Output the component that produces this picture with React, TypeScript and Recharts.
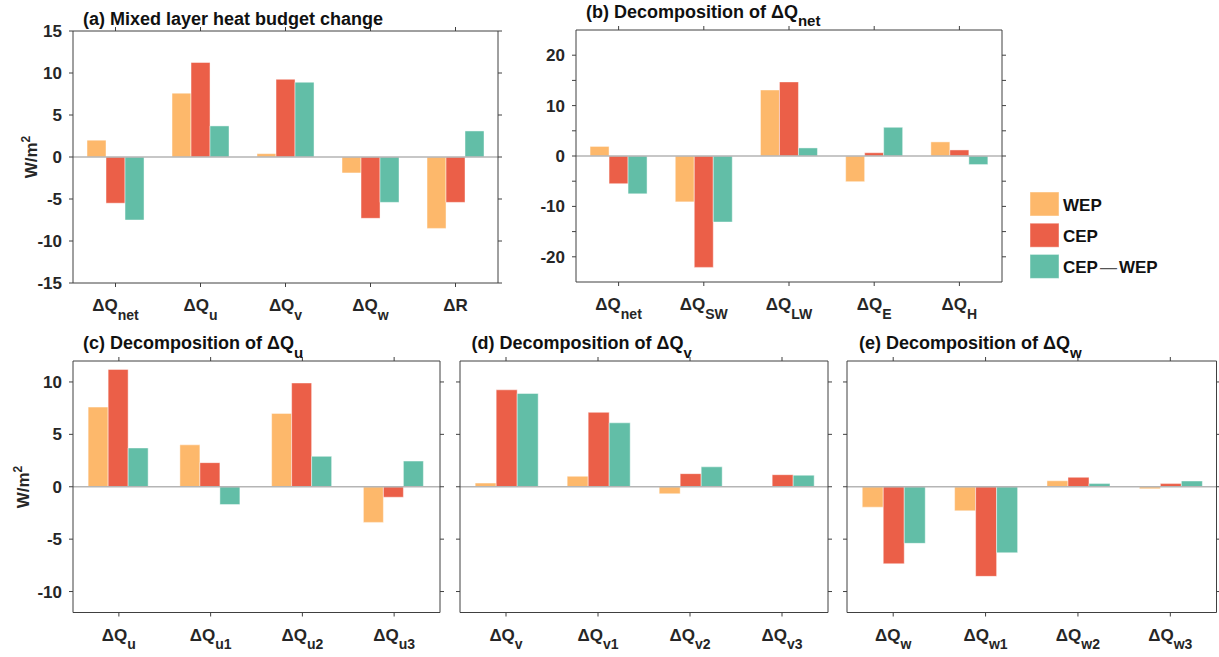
import { BarChart, Bar, XAxis, YAxis, ReferenceLine } from 'recharts'

// categories ("_" marks the subscript part)
const catsA = ['ΔQ_net', 'ΔQ_u', 'ΔQ_v', 'ΔQ_w', 'ΔR']
const catsB = ['ΔQ_net', 'ΔQ_SW', 'ΔQ_LW', 'ΔQ_E', 'ΔQ_H']
const catsC = ['ΔQ_u', 'ΔQ_u1', 'ΔQ_u2', 'ΔQ_u3']
const catsD = ['ΔQ_v', 'ΔQ_v1', 'ΔQ_v2', 'ΔQ_v3']
const catsE = ['ΔQ_w', 'ΔQ_w1', 'ΔQ_w2', 'ΔQ_w3']

// W/m2
const wepA = [2.0, 7.6, 0.4, -1.9, -8.5]
const cepA = [-5.5, 11.25, 9.25, -7.3, -5.4]
const diffA = [-7.5, 3.7, 8.9, -5.4, 3.1]

const wepB = [1.9, -9.1, 13.1, -5.1, 2.8]
const cepB = [-5.5, -22.1, 14.7, 0.65, 1.2]
const diffB = [-7.5, -13.1, 1.6, 5.7, -1.7]

const wepC = [7.6, 4.0, 7.0, -3.4]
const cepC = [11.2, 2.3, 9.9, -1.0]
const diffC = [3.7, -1.7, 2.9, 2.45]

const wepD = [0.35, 1.0, -0.67, 0.08]
const cepD = [9.25, 7.1, 1.25, 1.15]
const diffD = [8.9, 6.1, 1.9, 1.1]

const wepE = [-1.95, -2.3, 0.57, -0.2]
const cepE = [-7.35, -8.55, 0.9, 0.3]
const diffE = [-5.4, -6.3, 0.3, 0.55]

const seriesNames = ['WEP', 'CEP', 'CEP\u2014WEP']
const seriesColors = ['#FDB86B', '#EB5F48', '#62BEA7']

const ticksA = [-15, -10, -5, 0, 5, 10, 15]
const ticksB = [-20, -15, -10, -5, 0, 5, 10, 15, 20]
const ticksCDE = [-10, -5, 0, 5, 10]

const FONT = '"Liberation Sans", Arial, Helvetica, sans-serif'
const TXT = '#262626'
const AX = '#404040'

function CatTick({ x, y, payload }: any) {
  const [main, sub] = String(payload.value).split('_')
  return (
    <text x={x} y={y + 22} textAnchor="middle" fill={TXT} fontSize={17} fontWeight="bold" fontFamily={FONT}>
      {main}
      {sub && <tspan dy={8.5} fontSize={14}>{sub}</tspan>}
    </text>
  )
}

const blank = () => ''

function Panel({ box, cats, wep, cep, diff, domain, ticks, fmt }: any) {
  const L = 70, R = 12, T = 12, B = 45
  const data = cats.map((c: string, i: number) => ({ name: c, wep: wep[i], cep: cep[i], diff: diff[i] }))
  return (
    <div style={{ position: 'absolute', left: box.x - L, top: box.y - T }}>
      <BarChart
        width={box.w + L + R}
        height={box.h + T + B}
        data={data}
        margin={{ top: 0, right: 0, bottom: 0, left: 0 }}
        barCategoryGap="16.5%"
        barGap={0}
      >
        <XAxis dataKey="name" height={B} interval={0} tickSize={4} tickLine={{ stroke: AX }}
          axisLine={{ stroke: AX }} tick={<CatTick />} />
        <XAxis xAxisId="top" orientation="top" dataKey="name" height={T} interval={0} tickSize={4}
          tickLine={{ stroke: AX }} axisLine={{ stroke: AX }} tickFormatter={blank} />
        <YAxis width={L} domain={domain} ticks={ticks} interval={0} allowDataOverflow tickSize={4} tickMargin={7}
          tickLine={{ stroke: AX }} axisLine={{ stroke: AX }} tickFormatter={fmt}
          tick={{ fill: TXT, fontSize: 17, fontWeight: 'bold', fontFamily: FONT }} />
        <YAxis yAxisId="right" orientation="right" width={R} domain={domain} ticks={ticks} interval={0}
          allowDataOverflow tickSize={4} tickLine={{ stroke: AX }} axisLine={{ stroke: AX }} tickFormatter={blank} />
        <ReferenceLine y={0} stroke="#b5b5b5" strokeWidth={1.5} />
        {['wep', 'cep', 'diff'].map((k, i) => (
          <Bar key={k} dataKey={k} name={seriesNames[i]} fill={seriesColors[i]} stroke="#ffffff"
            strokeOpacity={0.45} strokeWidth={1} isAnimationActive={false} />
        ))}
      </BarChart>
    </div>
  )
}

function Title({ x, y, text, sub }: any) {
  return (
    <text x={x} y={y} fill="#111" fontSize={18} fontWeight="bold" fontFamily={FONT}>
      {text}
      {sub && <tspan dy={8.5} fontSize={15}>{sub}</tspan>}
    </text>
  )
}

function YLabel({ x, y }: any) {
  return (
    <text transform={`translate(${x},${y}) rotate(-90)`} textAnchor="middle" fill={TXT}
      fontSize={17} fontWeight="bold" fontFamily={FONT}>
      W/m<tspan dy={-7} fontSize={12}>2</tspan>
    </text>
  )
}

function LegendLabel({ text }: any) {
  const parts = text.split('\u2014')
  if (parts.length < 2) return <>{text}</>
  return (
    <>
      {parts[0]}
      <tspan fontWeight="normal" fill="#555" dx={2}>{'\u2014'}</tspan>
      <tspan dx={2}>{parts[1]}</tspan>
    </>
  )
}

export default function App() {
  const tenOnly = (v: number) => (v % 10 === 0 ? String(v) : '')
  const plain = (v: number) => String(v)
  return (
    <div style={{ position: 'absolute', left: 0, top: 0, width: 1219, height: 657, background: '#fff' }}>
      <Panel box={{ x: 73, y: 31, w: 425, h: 252 }} cats={catsA} wep={wepA} cep={cepA} diff={diffA}
        domain={[-15, 15]} ticks={ticksA} fmt={plain} />
      <Panel box={{ x: 576, y: 29.5, w: 426, h: 252 }} cats={catsB} wep={wepB} cep={cepB} diff={diffB}
        domain={[-25, 25]} ticks={ticksB} fmt={tenOnly} />
      <Panel box={{ x: 73, y: 361, w: 367, h: 251.5 }} cats={catsC} wep={wepC} cep={cepC} diff={diffC}
        domain={[-12, 12]} ticks={ticksCDE} fmt={plain} />
      <Panel box={{ x: 459.5, y: 361, w: 368, h: 251.5 }} cats={catsD} wep={wepD} cep={cepD} diff={diffD}
        domain={[-12, 12]} ticks={ticksCDE} fmt={blank} />
      <Panel box={{ x: 847, y: 361, w: 369.5, h: 251.5 }} cats={catsE} wep={wepE} cep={cepE} diff={diffE}
        domain={[-12, 12]} ticks={ticksCDE} fmt={blank} />

      <svg width={1219} height={657} style={{ position: 'absolute', left: 0, top: 0, pointerEvents: 'none' }}>
        <Title x={83} y={25} text="(a) Mixed layer heat budget change" />
        <Title x={586} y={17.5} text="(b) Decomposition of ΔQ" sub="net" />
        <Title x={83} y={349} text="(c) Decomposition of ΔQ" sub="u" />
        <Title x={471.5} y={349} text="(d) Decomposition of ΔQ" sub="v" />
        <Title x={859} y={349} text="(e) Decomposition of ΔQ" sub="w" />
        <YLabel x={37} y={157} />
        <YLabel x={29} y={487} />
        {seriesNames.map((n, i) => (
          <g key={n}>
            <rect x={1030} y={192 + i * 31.2} width={29} height={24} fill={seriesColors[i]}
              stroke="#fff" strokeOpacity={0.45} />
            <text x={1063} y={211 + i * 31} fill="#111" fontSize={17} fontWeight="bold" fontFamily={FONT}>
              <LegendLabel text={n} />
            </text>
          </g>
        ))}
      </svg>
    </div>
  )
}
